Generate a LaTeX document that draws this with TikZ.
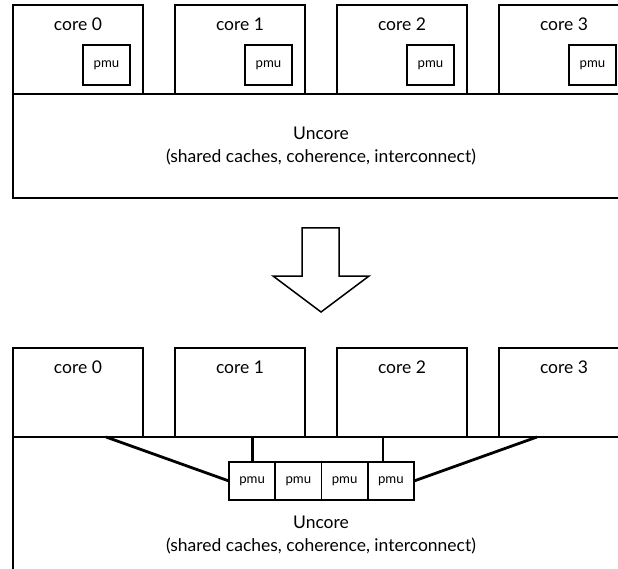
\documentclass[tikz,border=0pt]{standalone}
\usepackage{fontspec}
\setmainfont{Lato}
\begin{document}
\begin{tikzpicture}[x=1pt,y=-1pt,
  box/.style={draw=black,line width=1.8pt,fill=white,inner sep=0pt,outer sep=0pt,anchor=north west},
  corebox/.style={box,minimum width=130pt,minimum height=89pt},
  pmubox/.style={box,minimum width=47pt,minimum height=40pt,font=\fontsize{13.2}{15}\selectfont},
  pmucell/.style={draw=black,line width=1.8pt,inner sep=0pt,outer sep=0pt,minimum width=46.25pt,minimum height=38pt,font=\fontsize{13.2}{15}\selectfont},
  corelabel/.style={font=\fontsize{17.5}{20}\selectfont,inner sep=0pt},
  uncorelabel/.style={font=\fontsize{17.5}{23}\selectfont,align=center,inner sep=0pt},
  link/.style={draw=black,line width=2.8pt},
  bigarrow/.style={draw=black,line width=1.5pt,fill=white,line join=miter}]
\useasboundingbox (0,0) rectangle (618,569);

% ---- upper chip: one pmu inside every core ----
\node[box,minimum width=617pt,minimum height=104pt] (unA) at (13,94) {};
\node[uncorelabel] (unAtxt) at (321,146) {Uncore\\(shared caches, coherence, interconnect)};
\foreach \i/\x in {0/13,1/175,2/337,3/499}{
  \node[corebox] (cA\i) at (\x,5) {};
  \node[corelabel] (cA\i l) at ([yshift=-19pt]cA\i.north) {core \i};
  \node[pmubox] (pA\i) at ([xshift=70pt,yshift=-40pt]cA\i.north west) {pmu};
}

% ---- block arrow ----
\coordinate (ar1) at (302,228);
\coordinate (ar2) at (339,228);
\coordinate (ar3) at (339,276);
\coordinate (ar4) at (369,276);
\coordinate (ar5) at (321,312);
\coordinate (ar6) at (273,276);
\coordinate (ar7) at (302,276);
\draw[bigarrow] (ar1) -- (ar2) -- (ar3) -- (ar4) -- (ar5) -- (ar6) -- (ar7) -- cycle;

% ---- lower chip: pmus moved into the uncore ----
\node[box,minimum width=617pt,minimum height=150pt] (unB) at (13,437) {};
\node[uncorelabel] (unBtxt) at (321,535) {Uncore\\(shared caches, coherence, interconnect)};
\foreach \i/\x in {0/13,1/175,2/337,3/499}{
  \node[corebox] (cB\i) at (\x,348) {};
  \node[corelabel] (cB\i l) at ([yshift=-19pt]cB\i.north) {core \i};
}
\node[pmucell,anchor=north west] (q0) at (229,462) {pmu};
\node[pmucell,anchor=west] (q1) at (q0.east) {pmu};
\node[pmucell,anchor=west] (q2) at (q1.east) {pmu};
\node[pmucell,anchor=west] (q3) at (q2.east) {pmu};

\coordinate (t0) at (106,437);
\coordinate (t3) at (537,437);
\draw[link] (t0) -- (q0.west);
\draw[link] (q3.east) -- (t3);
\draw[link] (cB1.south -| q0.north) -- (q0.north);
\draw[link] (383,437) coordinate (t2) -- (t2 |- q3.north);
\end{tikzpicture}
\end{document}
